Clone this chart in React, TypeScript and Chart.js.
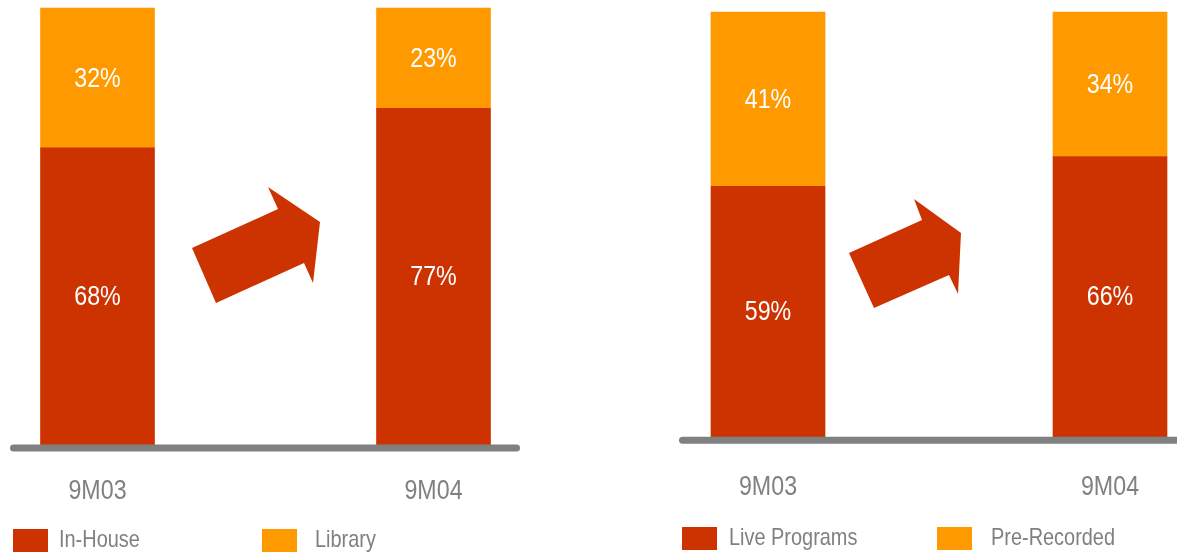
import React, { useEffect, useRef } from "react";
import { Chart, registerables } from "chart.js";

Chart.register(...registerables);

// ---- data ----
const categories = ["9M03", "9M04"];
const inHouse = [68, 77];
const library = [32, 23];
const livePrograms = [59, 66];
const preRecorded = [41, 34];
const leftSeriesNames = ["In-House", "Library"];
const rightSeriesNames = ["Live Programs", "Pre-Recorded"];

const RED = "#CC3300";
const ORANGE = "#FF9900";
const GREY = "#808080";
const FONT = "'Liberation Sans', Arial, sans-serif";
const NARROW = 0.83;

function narrowText(ctx: CanvasRenderingContext2D, text: string, x: number, y: number, k: number) {
  ctx.save();
  ctx.translate(x, y);
  ctx.scale(k, 1);
  ctx.fillText(text, 0, 0);
  ctx.restore();
}

const overlayPlugin = {
  id: "overlay",
  afterDatasetsDraw(chart: any, _args: any, opts: any) {
    const ctx = chart.ctx;
    const area = chart.chartArea;
    // baseline
    ctx.save();
    ctx.strokeStyle = GREY;
    ctx.lineWidth = 7;
    ctx.lineCap = "round";
    ctx.beginPath();
    const y = area.bottom + 3.3;
    ctx.moveTo(opts.x1 + 3.5, y);
    ctx.lineTo(opts.x2 - 3.5, y);
    ctx.stroke();
    ctx.restore();
    // value labels
    ctx.save();
    ctx.fillStyle = "#FFFFFF";
    ctx.font = `28px ${FONT}`;
    ctx.textAlign = "center";
    ctx.textBaseline = "middle";
    chart.data.datasets.forEach((ds: any, di: number) => {
      const meta = chart.getDatasetMeta(di);
      meta.data.forEach((el: any, i: number) => {
        const v = ds.data[i];
        narrowText(ctx, `${v}%`, el.x, (el.y + el.base) / 2 + 1, 0.83);
      });
    });
    ctx.restore();
    // category (tick) labels of the x scale
    const xs = chart.scales.x;
    ctx.save();
    ctx.fillStyle = GREY;
    ctx.font = `27px ${FONT}`;
    ctx.textAlign = "center";
    ctx.textBaseline = "middle";
    xs.ticks.forEach((_t: any, i: number) => {
      narrowText(ctx, String(xs.getLabelForValue(i)), xs.getPixelForTick(i), area.bottom + opts.labelOffset, 0.86);
    });
    ctx.restore();
  },
};

type PanelProps = {
  left: number;
  width: number;
  values: number[][];
  names: string[];
  pad: { left: number; right: number; top: number; bottom: number };
  base: { x1: number; x2: number; labelOffset: number };
  legend: { box: number[]; text: number[]; top: number };
};

function Panel(p: PanelProps) {
  const ref = useRef<HTMLCanvasElement>(null);
  useEffect(() => {
    if (!ref.current) return;
    const chart = new Chart(ref.current, {
      type: "bar",
      data: {
        labels: categories,
        datasets: [
          { label: p.names[0], data: p.values[0], backgroundColor: RED, barThickness: 114, clip: false as any },
          { label: p.names[1], data: p.values[1], backgroundColor: ORANGE, barThickness: 114, clip: false as any },
        ],
      },
      options: {
        animation: false,
        responsive: false,
        devicePixelRatio: 1,
        layout: { padding: p.pad },
        plugins: {
          legend: { display: false },
          tooltip: { enabled: false },
          overlay: p.base,
        } as any,
        scales: {
          x: {
            stacked: true,
            offset: false,
            grid: { display: false },
            border: { display: false },
            ticks: { display: false },
            afterFit: (s: any) => {
              s.height = 75;
            },
          },
          y: { stacked: true, display: false, min: 0, max: 100 },
        },
      },
      plugins: [overlayPlugin],
    });
    return () => chart.destroy();
  }, []);
  return (
    <div style={{ position: "absolute", left: p.left, top: 0, width: p.width, height: 555 }}>
      <canvas ref={ref} width={p.width} height={555} style={{ position: "absolute", left: 0, top: 0 }} />
      {p.names.map((n, i) => (
        <React.Fragment key={n}>
          <div
            style={{
              position: "absolute",
              left: p.legend.box[i],
              top: p.legend.top,
              width: 35,
              height: 23,
              background: i === 0 ? RED : ORANGE,
            }}
          />
          <div
            style={{
              position: "absolute",
              left: p.legend.text[i],
              top: p.legend.top - 5,
              height: 29,
              lineHeight: "29px",
              fontFamily: FONT,
              fontSize: 24,
              color: GREY,
              whiteSpace: "nowrap",
              transform: `scaleX(${NARROW})`,
              transformOrigin: "left center",
            }}
          >
            {n}
          </div>
        </React.Fragment>
      ))}
    </div>
  );
}

function Arrow({ points }: { points: string }) {
  return <polygon points={points} fill={RED} />;
}

export default function App() {
  return (
    <div style={{ position: "absolute", left: 0, top: 0, width: 1177, height: 555, overflow: "hidden", background: "#fff" }}>
      <Panel
        left={0}
        width={540}
        values={[inHouse, library]}
        names={leftSeriesNames}
        pad={{ left: 97.5, right: 106.5, top: 8, bottom: 35.3 }}
        base={{ x1: 10, x2: 520, labelOffset: 46.5 }}
        legend={{ box: [13, 262], text: [59, 315], top: 529 }}
      />
      <Panel
        left={640}
        width={537}
        values={[livePrograms, preRecorded]}
        names={rightSeriesNames}
        pad={{ left: 128, right: 67, top: 12, bottom: 43 }}
        base={{ x1: 39, x2: 545, labelOffset: 51 }}
        legend={{ box: [42, 297], text: [89, 351], top: 527 }}
      />
      <svg width={1177} height={555} style={{ position: "absolute", left: 0, top: 0, pointerEvents: "none" }}>
        <Arrow points="192,248 278,209 268,187 320,222 313,283 304,263 216,303" />
        <Arrow points="849,253 922,220 914,199 961,233 958,294 949,275 874,308" />
      </svg>
    </div>
  );
}
